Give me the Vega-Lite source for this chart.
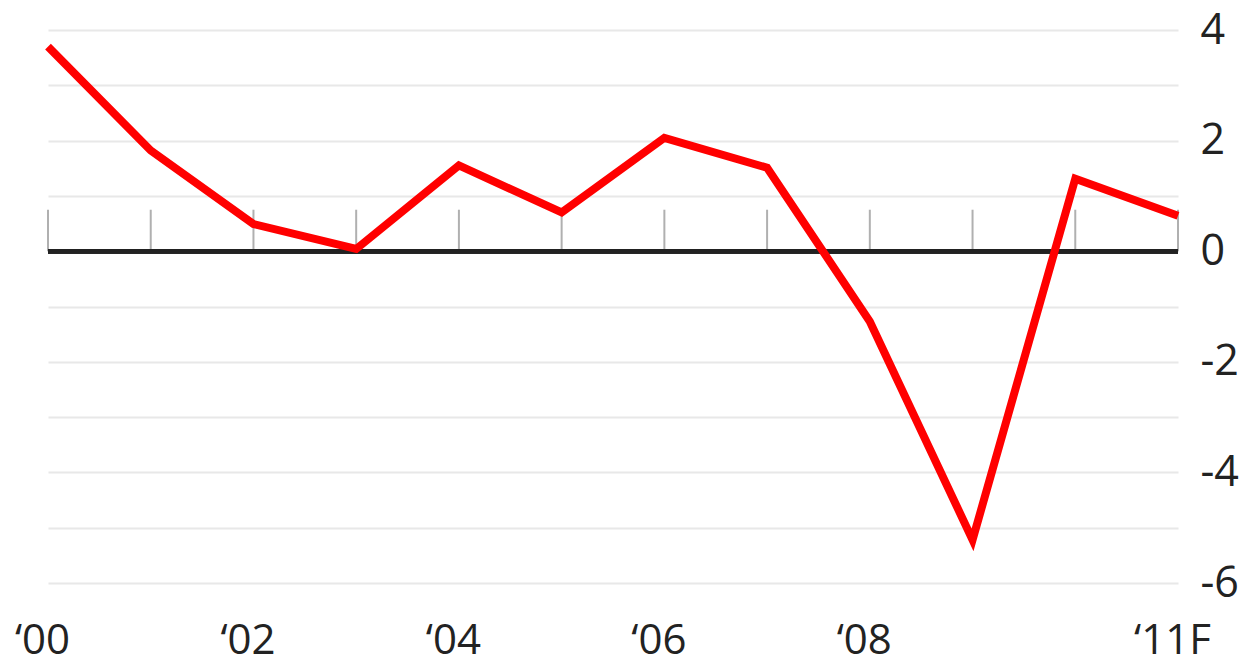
{
  "$schema": "https://vega.github.io/schema/vega-lite/v6.json",
  "width": 1130,
  "height": 553,
  "autosize": {"type": "none"},
  "padding": {"left": 48, "top": 30, "right": 82, "bottom": 85},
  "background": "white",
  "config": {"view": {"stroke": null}, "font": "Open Sans"},
  "data": {
    "values": [
      {"year": 2000, "value": 3.7},
      {"year": 2001, "value": 1.82},
      {"year": 2002, "value": 0.49},
      {"year": 2003, "value": 0.04},
      {"year": 2004, "value": 1.55},
      {"year": 2005, "value": 0.7},
      {"year": 2006, "value": 2.05},
      {"year": 2007, "value": 1.51},
      {"year": 2008, "value": -1.27},
      {"year": 2009, "value": -5.22},
      {"year": 2010, "value": 1.31},
      {"year": 2011, "value": 0.64}
    ]
  },
  "layer": [
    {
      "mark": {"type": "rule", "color": "#b0b0b0", "strokeWidth": 2},
      "encoding": {
        "x": {"field": "year", "type": "quantitative", "scale": {"domain": [2000, 2011], "nice": false, "zero": false},
          "axis": {"values": [2000, 2002, 2004, 2006, 2008, 2011], "labelExpr": "datum.value == 2011 ? '\u201811F' : '\u2018' + substring(datum.label, 2, 4)", "format": "d", "grid": false, "ticks": false, "domain": false, "title": null, "labelFontSize": 42, "labelFontWeight": 500, "labelColor": "#222222", "labelBaseline": "alphabetic", "labelPadding": 70, "labelOffset": -6, "labelFlush": false}},
        "y": {"datum": 0, "type": "quantitative", "scale": {"domain": [-6, 4], "nice": false},
          "axis": {"orient": "right", "values": [-6, -5, -4, -3, -2, -1, 0, 1, 2, 3, 4], "labelExpr": "datum.value % 2 == 0 ? replace(datum.label, '\u2212', '-') : ''", "grid": true, "gridColor": "#e8e8e8", "gridWidth": 2, "ticks": false, "domain": false, "title": null, "labelFontSize": 43, "labelFontWeight": 500, "labelColor": "#222222", "labelPadding": 22, "labelAlign": "left", "labelBaseline": "middle", "labelFlush": false}},
        "y2": {"datum": 0.75}
      }
    },
    {
      "mark": {"type": "rule", "color": "#222222", "strokeWidth": 4},
      "encoding": {"y": {"datum": 0, "type": "quantitative"}}
    },
    {
      "mark": {"type": "line", "color": "#ff0000", "strokeWidth": 8},
      "encoding": {
        "x": {"field": "year", "type": "quantitative"},
        "y": {"field": "value", "type": "quantitative"}
      }
    }
  ]
}
